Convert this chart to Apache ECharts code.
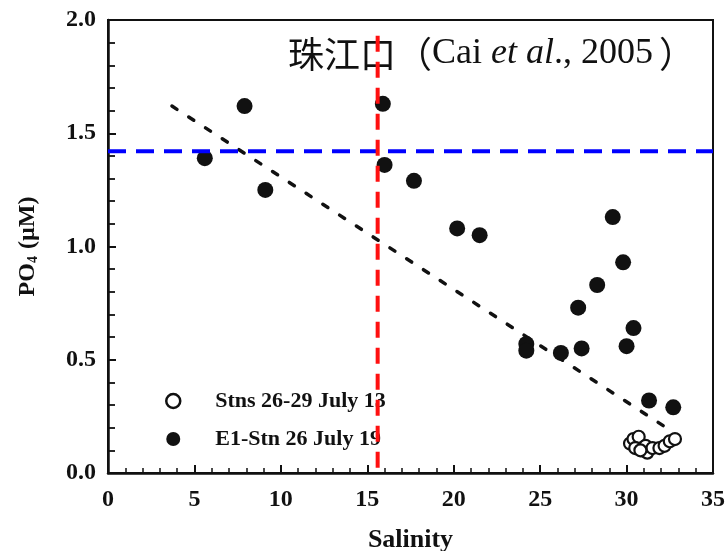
<!DOCTYPE html>
<html>
<head>
<meta charset="utf-8">
<title>PO4 vs Salinity</title>
<script src="https://cdn.jsdelivr.net/npm/echarts@6/dist/echarts.min.js"></script>
<style>
  html, body { margin: 0; padding: 0; background: #ffffff; }
  #chart { width: 726px; height: 551px; }
</style>
</head>
<body>
<div id="chart"></div>
<script>
// Filled circles: E1-Stn, 26 July (salinity, PO4 in µM)
var e1Salinity = [5.6, 7.9, 9.1, 15.9, 16.0, 17.7, 20.2, 21.5, 24.2, 24.2, 26.2, 27.4, 27.2, 28.3, 29.2, 29.8, 30.4, 30.0, 31.3, 32.7];
var e1PO4      = [1.39, 1.62, 1.25, 1.63, 1.36, 1.29, 1.08, 1.05, 0.57, 0.54, 0.53, 0.55, 0.73, 0.83, 1.13, 0.93, 0.64, 0.56, 0.32, 0.29];

// Open circles: Stns 26-29, July
var stnSalinity = [30.2, 30.4, 30.7, 30.5, 30.9, 31.2, 31.1, 31.5, 31.9, 32.2, 32.5, 32.8, 30.8];
var stnPO4      = [0.13, 0.15, 0.16, 0.11, 0.10, 0.09, 0.12, 0.11, 0.11, 0.12, 0.14, 0.15, 0.10];

// Dotted mixing line end points
var fitSalinity = [3.7, 32.3];
var fitPO4      = [1.62, 0.20];

// Reference levels
var refPO4 = 1.42;        // horizontal blue dashed line
var refSalinity = 15.6;   // vertical red dashed line
var refTop = 1.93;

var xTicks = { min: 0, max: 35, interval: 5 };
var yTicks = { min: 0, max: 2, interval: 0.5 };

var serif = "'Liberation Serif', 'DejaVu Serif', serif";

function pairs(xs, ys) {
  return xs.map(function (x, i) { return [x, ys[i]]; });
}

var chart = echarts.init(document.getElementById('chart'), null, { renderer: 'canvas' });

chart.setOption({
  backgroundColor: '#ffffff',
  animation: false,
  title: {
    left: 283,
    top: 31,
    text: '{cn|珠江口（}{la|Cai }{it|et al}{la|., 2005}{cp|）}',
    textStyle: {
      rich: {
        cn: { fontFamily: "'Noto Sans CJK SC'", fontSize: 36, color: '#111', fontWeight: 'normal' },
        cp: { fontFamily: "'Noto Sans CJK SC'", fontSize: 36, color: '#111', fontWeight: 'normal', padding: [0, 0, 0, 6] },
        la: { fontFamily: serif, fontSize: 36, color: '#111', fontWeight: 'normal' },
        it: { fontFamily: serif, fontSize: 36, color: '#111', fontStyle: 'italic', fontWeight: 'normal' }
      }
    }
  },
  grid: {
    left: 108, right: 13, top: 20, bottom: 78,
    outerBoundsMode: 'none',
    containLabel: false,
    show: true, borderColor: '#111', borderWidth: 2, backgroundColor: 'transparent'
  },
  legend: {
    orient: 'vertical',
    left: 160,
    top: 385,
    itemWidth: 14,
    itemHeight: 14,
    itemGap: 16,
    selectedMode: false,
    textStyle: { fontFamily: serif, fontWeight: 'bold', fontSize: 22, color: '#111', padding: [0, 0, 0, 30] },
    data: [
      { name: 'Stns 26-29 July 13', icon: 'circle', itemStyle: { color: '#fff', borderColor: '#111', borderWidth: 2.5 } },
      { name: 'E1-Stn 26 July 19', icon: 'circle', itemStyle: { color: '#111' } }
    ]
  },
  xAxis: {
    type: 'value',
    min: xTicks.min, max: xTicks.max, interval: xTicks.interval,
    name: 'Salinity',
    nameLocation: 'middle',
    nameGap: 54,
    nameTextStyle: { fontFamily: serif, fontWeight: 'bold', fontSize: 26, color: '#111' },
    axisLine: { onZero: false, lineStyle: { color: '#111', width: 2.5 } },
    axisTick: { inside: true, length: 8, lineStyle: { color: '#111', width: 2 } },
    minorTick: { show: true, splitNumber: 5, length: 5, lineStyle: { color: '#111', width: 1.5 } },
    axisLabel: { fontFamily: serif, fontWeight: 'bold', fontSize: 24, color: '#111', margin: 15 },
    splitLine: { show: false }
  },
  yAxis: {
    type: 'value',
    min: yTicks.min, max: yTicks.max, interval: yTicks.interval,
    name: '{b|PO}{s|4}{b| (µM)}',
    nameLocation: 'middle',
    nameGap: 68,
    nameRotate: 90,
    nameTextStyle: {
      rich: {
        b: { fontFamily: serif, fontWeight: 'bold', fontSize: 24, color: '#111' },
        s: { fontFamily: serif, fontWeight: 'bold', fontSize: 14, color: '#111', verticalAlign: 'bottom', padding: [10, 1, 0, 0] }
      }
    },
    axisLine: { onZero: false, lineStyle: { color: '#111', width: 2.5 } },
    axisTick: { inside: true, length: 8, lineStyle: { color: '#111', width: 2 } },
    minorTick: { show: true, splitNumber: 5, length: 7, lineStyle: { color: '#111', width: 1.8 } },
    axisLabel: {
      fontFamily: serif, fontWeight: 'bold', fontSize: 24, color: '#111', margin: 12,
      formatter: function (v) { return v.toFixed(1); }
    },
    splitLine: { show: false }
  },
  series: [
    {
      name: 'mixing line',
      type: 'line',
      data: pairs(fitSalinity, fitPO4),
      showSymbol: false,
      silent: true,
      lineStyle: { color: '#111', width: 3.5, type: [6, 14], cap: 'round' },
      z: 3
    },
    {
      name: 'E1-Stn 26 July 19',
      type: 'scatter',
      data: pairs(e1Salinity, e1PO4),
      symbol: 'circle',
      symbolSize: 16,
      itemStyle: { color: '#111', opacity: 1 },
      z: 4
    },
    {
      name: 'Stns 26-29 July 13',
      type: 'scatter',
      data: pairs(stnSalinity, stnPO4),
      symbol: 'circle',
      symbolSize: 12,
      itemStyle: { color: '#fff', borderColor: '#111', borderWidth: 2.2, opacity: 1 },
      z: 4
    },
    {
      name: 'blue level',
      type: 'line',
      data: [[xTicks.min, refPO4], [xTicks.max, refPO4]],
      showSymbol: false,
      silent: true,
      lineStyle: { color: '#0000ff', width: 4, type: [18, 10] },
      z: 5
    },
    {
      name: 'red level',
      type: 'line',
      data: [[refSalinity, refTop], [refSalinity, yTicks.min]],
      showSymbol: false,
      silent: true,
      lineStyle: { color: '#ff1010', width: 4, type: [16, 10] },
      z: 6
    }
  ]
});
</script>
</body>
</html>
